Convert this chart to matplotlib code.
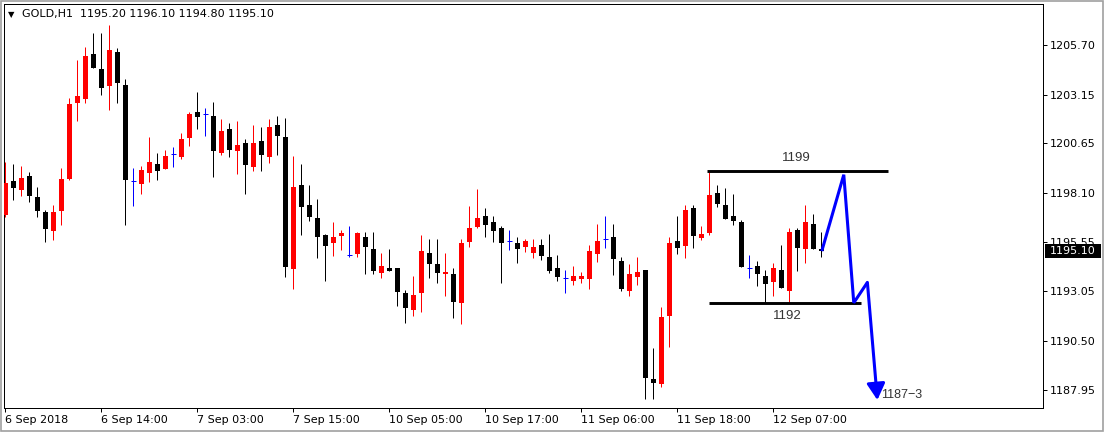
import numpy as np
import matplotlib
matplotlib.use("Agg")
from matplotlib import pyplot as plt, patches, transforms

# GOLD H1 candles, 6 Sep 2018 .. 12 Sep 2018 (open, high, low, close)
opens = [1196.96, 1198.72, 1198.24, 1198.96, 1197.88, 1197.11, 1196.15, 1197.18, 1198.81, 1202.73,
         1202.92, 1205.24, 1204.47, 1203.59, 1205.32, 1203.64, 1198.69, 1198.55, 1199.13, 1199.58,
         1199.34, 1200.09, 1199.95, 1200.93, 1202.24, 1202.14, 1202.05, 1200.16, 1201.38, 1200.25,
         1200.67, 1199.44, 1200.76, 1199.95, 1201.58, 1200.98, 1194.18, 1198.50, 1197.47, 1196.80,
         1195.93, 1195.50, 1195.88, 1194.90, 1194.95, 1195.84, 1195.21, 1193.99, 1194.21, 1194.21,
         1192.96, 1192.07, 1192.93, 1194.99, 1194.43, 1193.90, 1193.92, 1192.41, 1195.58, 1196.35,
         1196.90, 1196.61, 1196.27, 1195.60, 1195.50, 1195.30, 1194.99, 1195.41, 1194.79, 1194.24,
         1193.70, 1193.58, 1193.68, 1193.66, 1194.96, 1195.71, 1195.82, 1194.59, 1193.06, 1193.78,
         1194.13, 1188.52, 1188.25, 1191.77, 1195.62, 1195.38, 1197.32, 1195.79, 1196.04, 1198.09,
         1197.47, 1196.90, 1196.61, 1194.21, 1194.33, 1193.82, 1193.49, 1194.13, 1193.06, 1196.18,
         1195.19, 1196.49, 1195.20]
highs = [1199.70, 1199.58, 1199.49, 1199.18, 1198.41, 1197.21, 1197.47, 1199.37, 1202.96, 1204.93,
         1205.61, 1206.30, 1206.33, 1206.73, 1205.53, 1203.94, 1199.36, 1199.49, 1200.98, 1200.13,
         1200.30, 1200.47, 1201.19, 1202.24, 1203.27, 1202.44, 1202.78, 1201.88, 1201.67, 1201.79,
         1200.85, 1201.58, 1201.50, 1201.89, 1202.06, 1201.93, 1199.99, 1199.58, 1198.50, 1197.78,
         1195.98, 1196.61, 1196.18, 1196.39, 1196.10, 1196.10, 1196.08, 1195.02, 1195.21, 1194.24,
         1193.10, 1193.83, 1195.93, 1195.72, 1195.72, 1195.02, 1194.21, 1195.71, 1197.43, 1198.28,
         1197.30, 1196.90, 1196.39, 1196.18, 1195.84, 1195.71, 1195.71, 1195.72, 1195.98, 1194.90,
         1194.13, 1194.33, 1194.01, 1195.41, 1196.49, 1196.90, 1196.49, 1194.78, 1194.42, 1194.79,
         1194.13, 1190.10, 1192.22, 1195.81, 1196.90, 1197.47, 1197.47, 1196.39, 1199.15, 1198.50,
         1198.33, 1198.02, 1196.70, 1194.90, 1194.59, 1194.13, 1194.50, 1195.41, 1196.27, 1196.27,
         1197.47, 1196.99, 1196.10]
lows = [1196.87, 1197.73, 1197.93, 1197.64, 1196.87, 1195.58, 1195.67, 1196.44, 1198.76, 1201.81,
        1202.72, 1204.52, 1203.13, 1202.36, 1202.73, 1196.44, 1197.42, 1198.04, 1198.67, 1198.76,
        1199.32, 1199.44, 1199.84, 1200.52, 1201.36, 1201.03, 1198.93, 1200.04, 1199.95, 1199.05,
        1198.04, 1199.23, 1199.22, 1199.65, 1200.04, 1193.78, 1193.15, 1195.93, 1196.66, 1194.76,
        1193.58, 1194.86, 1195.15, 1194.78, 1194.78, 1193.90, 1193.92, 1193.70, 1194.07, 1192.29,
        1191.41, 1191.77, 1191.98, 1193.70, 1193.47, 1192.80, 1191.67, 1191.33, 1195.30, 1196.27,
        1195.81, 1195.58, 1193.47, 1195.15, 1194.47, 1195.07, 1194.73, 1194.64, 1193.99, 1193.58,
        1192.93, 1193.35, 1193.47, 1193.16, 1194.55, 1195.27, 1193.87, 1193.06, 1192.80, 1193.35,
        1187.51, 1187.51, 1188.12, 1190.18, 1194.96, 1194.76, 1195.27, 1195.67, 1195.94, 1197.38,
        1196.75, 1196.44, 1194.30, 1193.70, 1193.30, 1192.44, 1192.80, 1193.18, 1192.50, 1194.09,
        1194.50, 1195.21, 1194.80]
closes = [1198.62, 1198.36, 1198.86, 1197.93, 1197.16, 1196.25, 1197.11, 1198.81, 1202.67, 1203.08,
          1205.13, 1204.53, 1203.50, 1205.44, 1203.73, 1198.76, 1198.69, 1199.29, 1199.70, 1199.23,
          1200.00, 1200.09, 1200.86, 1202.15, 1202.01, 1202.14, 1200.26, 1201.28, 1200.30, 1200.56,
          1199.53, 1200.67, 1200.04, 1201.50, 1201.03, 1194.30, 1198.38, 1197.38, 1196.87, 1195.81,
          1195.38, 1195.84, 1196.02, 1194.90, 1196.02, 1195.30, 1194.09, 1194.33, 1194.09, 1192.98,
          1192.19, 1192.84, 1195.10, 1194.43, 1193.99, 1194.04, 1192.49, 1195.50, 1196.27, 1196.78,
          1196.44, 1196.15, 1195.50, 1195.60, 1195.19, 1195.62, 1195.32, 1194.85, 1194.07, 1193.78,
          1193.70, 1193.82, 1193.82, 1195.12, 1195.63, 1195.71, 1194.68, 1193.16, 1193.92, 1194.02,
          1188.59, 1188.33, 1191.71, 1195.51, 1195.27, 1197.21, 1195.89, 1196.00, 1197.98, 1197.54,
          1196.75, 1196.66, 1194.30, 1194.21, 1193.90, 1193.39, 1194.24, 1193.18, 1196.10, 1195.27,
          1196.61, 1195.21, 1195.10]

time_labels = ["6 Sep 2018", "6 Sep 14:00", "7 Sep 03:00", "7 Sep 15:00", "10 Sep 05:00",
               "10 Sep 17:00", "11 Sep 06:00", "11 Sep 18:00", "12 Sep 07:00"]
bars_per_label = 12
price_ticks = [1205.70, 1203.15, 1200.65, 1198.10, 1195.55, 1193.05, 1190.50, 1187.95]

# drawn analysis: range box and projected path (bar index, price)
resistance = 1199.20
resistance_bars = [87.7, 110.3]
support = 1192.41
support_bars = [88.0, 106.9]
path_bars = [102.05, 104.8, 106.05, 107.75]
path_prices = [1195.10, 1199.03, 1192.44, 1193.49]
target_bar, target_price = 109.0, 1187.44

W, H = 1105, 434
fig = plt.figure(figsize=(W / 100, H / 100), dpi=100)
ax = fig.add_axes([4 / W, 26 / H, 1039 / W, 404 / H])
ax.set_xlim(-0.16, 129.7)
ax.set_ylim(1187.03, 1207.81)

px = 0.72  # one pixel in points
for k, (o, h, l, c) in enumerate(zip(opens, highs, lows, closes)):
    if c > o:
        col = "#ff0000"
    elif c < o:
        col = "black"
    else:
        col = "#0000ff"
    ax.vlines(k, l, h, color=col, lw=px, zorder=2)
    if c == o:
        ax.hlines(o, k - 0.32, k + 0.32, color=col, lw=px, zorder=2)
    else:
        ax.bar(k, abs(c - o), bottom=min(o, c), width=0.62, color=col,
               linewidth=0, zorder=3)

# levels
ax.plot(resistance_bars, [resistance] * 2, color="black", lw=2.1,
        solid_capstyle="butt", zorder=4)
ax.plot(support_bars, [support] * 2, color="black", lw=2.1,
        solid_capstyle="butt", zorder=4)
ax.text(98.9, 1199.89, "1199", family="Liberation Sans", fontsize=9.5,
        color="#333333", ha="center", va="center")
ax.text(97.7, 1191.74, "1192", family="Liberation Sans", fontsize=9.5,
        color="#333333", ha="center", va="center")

# projected path
ax.plot(path_bars, path_prices, color="#0000ff", lw=2.2,
        solid_joinstyle="miter", solid_capstyle="butt", zorder=5)
ax.annotate("", xy=(target_bar, target_price), xytext=(path_bars[-1], path_prices[-1]),
            arrowprops=dict(arrowstyle="-|>,head_length=0.45,head_width=0.25",
                            color="#0000ff", lw=2.2, mutation_scale=22,
                            shrinkA=0, shrinkB=0), zorder=5)
ax.text(109.5, 1187.68, "1187\u22123", family="Liberation Sans", fontsize=9,
        color="#333333", ha="left", va="center")

# axes styling
for s in ax.spines.values():
    s.set_linewidth(px)
    s.set_color("black")
ax.yaxis.tick_right()
ax.set_yticks(price_ticks)
ax.set_yticklabels([f"{v:.2f}" for v in price_ticks])
ax.set_xticks(np.arange(len(time_labels)) * bars_per_label)
ax.set_xticklabels(time_labels, ha="left")
ax.tick_params(axis="both", direction="out", length=3, width=px, labelsize=8,
               colors="black")
ax.tick_params(axis="y", pad=2)
ax.tick_params(axis="x", pad=2)
for t in ax.get_xticklabels():
    t.set_horizontalalignment("left")

# current price marker on the price scale
last = closes[-1]
blend = transforms.blended_transform_factory(fig.transFigure, ax.transData)
half = 7.3 / 19.44
fig.add_artist(patches.Rectangle((1045 / W, last - half), 56 / W, 2 * half,
                                 transform=blend, facecolor="black",
                                 edgecolor="none", zorder=5))
fig.text(1050 / W, 0, f"{last:.2f}", transform=blend, color="white", fontsize=8,
         va="center", ha="left", zorder=6)
fig.texts[-1].set_position((1050 / W, last))

# header
fig.text(8 / W, 1 - 14.5 / H, "\u25bc", fontsize=6, va="center", ha="left")
fig.text(22 / W, 1 - 14.5 / H, "GOLD,H1  1195.20 1196.10 1194.80 1195.10",
         fontsize=8, va="center", ha="left")

# window border
fig.add_artist(patches.Rectangle((0.5 / W, 3 / H), 1102.5 / W, 430.5 / H,
                                 transform=fig.transFigure, fill=False,
                                 edgecolor="#a0a0a0", lw=1.2, zorder=0))

fig.savefig("out.png", dpi=100)
